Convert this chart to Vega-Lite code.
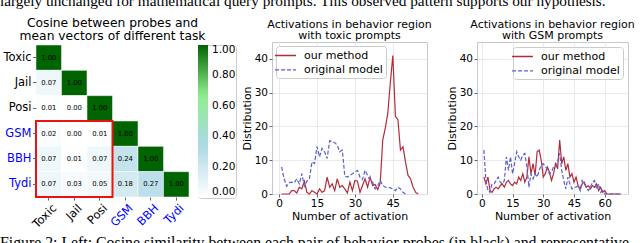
{
  "$schema": "https://vega.github.io/schema/vega-lite/v6.json",
  "padding": {"left": 0, "top": -7, "right": 0, "bottom": 0},
  "title": {"text": "largely unchanged for mathematical query prompts. This observed pattern supports our hypothesis.", "font": "Liberation Serif", "fontSize": 15.3, "fontWeight": "normal", "anchor": "start", "frame": "group", "dx": -36, "offset": 8, "color": "black"},
  "datasets": {
    "heat": [
      {"row": "Toxic", "col": "Toxic", "v": 1.0},
      {"row": "Jail", "col": "Toxic", "v": 0.07},
      {"row": "Jail", "col": "Jail", "v": 1.0},
      {"row": "Posi", "col": "Toxic", "v": 0.01},
      {"row": "Posi", "col": "Jail", "v": 0.0},
      {"row": "Posi", "col": "Posi", "v": 1.0},
      {"row": "GSM", "col": "Toxic", "v": 0.02},
      {"row": "GSM", "col": "Jail", "v": 0.0},
      {"row": "GSM", "col": "Posi", "v": 0.01},
      {"row": "GSM", "col": "GSM", "v": 1.0},
      {"row": "BBH", "col": "Toxic", "v": 0.07},
      {"row": "BBH", "col": "Jail", "v": 0.01},
      {"row": "BBH", "col": "Posi", "v": 0.07},
      {"row": "BBH", "col": "GSM", "v": 0.24},
      {"row": "BBH", "col": "BBH", "v": 1.0},
      {"row": "Tydi", "col": "Toxic", "v": 0.07},
      {"row": "Tydi", "col": "Jail", "v": 0.03},
      {"row": "Tydi", "col": "Posi", "v": 0.05},
      {"row": "Tydi", "col": "GSM", "v": 0.18},
      {"row": "Tydi", "col": "BBH", "v": 0.27},
      {"row": "Tydi", "col": "Tydi", "v": 1.0}
    ],
    "box": [{"cx": "Jail", "cy": "BBH"}],
    "toxic": [
      {"n": 1, "our method": 0, "original model": 8},
      {"n": 2, "our method": 0, "original model": 4.5},
      {"n": 3, "our method": 0, "original model": 2.3},
      {"n": 4, "our method": 0, "original model": 3.3},
      {"n": 5, "our method": 1, "original model": 3.5},
      {"n": 6, "our method": 1, "original model": 3.3},
      {"n": 7, "our method": 0.3, "original model": 4.5},
      {"n": 8, "our method": 2, "original model": 3},
      {"n": 9, "our method": 1.5, "original model": 6},
      {"n": 10, "our method": 3.8, "original model": 2.3},
      {"n": 11, "our method": 0.5, "original model": 3.8},
      {"n": 12, "our method": 0, "original model": 4.5},
      {"n": 13, "our method": 1, "original model": 9.5},
      {"n": 14, "our method": 0.5, "original model": 9},
      {"n": 15, "our method": 0, "original model": 14},
      {"n": 16, "our method": 1.5, "original model": 11},
      {"n": 17, "our method": 0.5, "original model": 13.5},
      {"n": 18, "our method": 1, "original model": 12.5},
      {"n": 19, "our method": 5, "original model": 10.5},
      {"n": 20, "our method": 2, "original model": 15.8},
      {"n": 21, "our method": 3, "original model": 15.5},
      {"n": 22, "our method": 1, "original model": 15.2},
      {"n": 23, "our method": 4.5, "original model": 14.5},
      {"n": 24, "our method": 2, "original model": 12.5},
      {"n": 25, "our method": 2.5, "original model": 13},
      {"n": 26, "our method": 1.5, "original model": 5.3},
      {"n": 27, "our method": 0.3, "original model": 5},
      {"n": 28, "our method": 3.5, "original model": 5.5},
      {"n": 29, "our method": 1, "original model": 6},
      {"n": 30, "our method": 4, "original model": 6.5},
      {"n": 31, "our method": 3.8, "original model": 7},
      {"n": 32, "our method": 0.5, "original model": 5},
      {"n": 33, "our method": 2.5, "original model": 4.3},
      {"n": 34, "our method": 4.5, "original model": 7},
      {"n": 35, "our method": 2, "original model": 5.5},
      {"n": 36, "our method": 5, "original model": 4},
      {"n": 37, "our method": 2.5, "original model": 3.5},
      {"n": 38, "our method": 2.8, "original model": 1.5},
      {"n": 39, "our method": 1.3, "original model": 2.5},
      {"n": 40, "our method": 3.3, "original model": 4},
      {"n": 41, "our method": 16, "original model": 2.5},
      {"n": 42, "our method": 19.5, "original model": 2},
      {"n": 43, "our method": 24, "original model": 2},
      {"n": 44, "our method": 33, "original model": 1.8},
      {"n": 45, "our method": 41, "original model": 1.5},
      {"n": 46, "our method": 23, "original model": 1},
      {"n": 47, "our method": 22, "original model": 2},
      {"n": 48, "our method": 13, "original model": 1.5},
      {"n": 49, "our method": 14, "original model": 0.5},
      {"n": 50, "our method": 9.5, "original model": 0},
      {"n": 51, "our method": 5.5, "original model": null},
      {"n": 52, "our method": 4.5, "original model": null},
      {"n": 53, "our method": 2, "original model": null},
      {"n": 54, "our method": 0.5, "original model": null},
      {"n": 55, "our method": 0, "original model": null}
    ],
    "gsm": [
      {"n": 1, "our method": 5, "original model": 13},
      {"n": 2, "our method": 3, "original model": 4},
      {"n": 3, "our method": 5, "original model": 1},
      {"n": 4, "our method": 1, "original model": 0.5},
      {"n": 5, "our method": 0.5, "original model": 3},
      {"n": 6, "our method": 1.5, "original model": 3},
      {"n": 7, "our method": 2, "original model": 4},
      {"n": 8, "our method": 1.5, "original model": 5},
      {"n": 9, "our method": 2.5, "original model": 3.5},
      {"n": 10, "our method": 3, "original model": 3},
      {"n": 11, "our method": 2, "original model": 4},
      {"n": 12, "our method": 3.5, "original model": 11},
      {"n": 13, "our method": 4, "original model": 7},
      {"n": 14, "our method": 3, "original model": 11},
      {"n": 15, "our method": 2.5, "original model": 6},
      {"n": 16, "our method": 3.5, "original model": 9},
      {"n": 17, "our method": 3, "original model": 12.5},
      {"n": 18, "our method": 5, "original model": 11},
      {"n": 19, "our method": 4, "original model": 10},
      {"n": 20, "our method": 6, "original model": 11.5},
      {"n": 21, "our method": 3.5, "original model": 12},
      {"n": 22, "our method": 5, "original model": 8},
      {"n": 23, "our method": 11, "original model": 2},
      {"n": 24, "our method": 6, "original model": 6},
      {"n": 25, "our method": 9, "original model": 4.5},
      {"n": 26, "our method": 5.5, "original model": 6},
      {"n": 27, "our method": 12.5, "original model": 5},
      {"n": 28, "our method": 13, "original model": 7},
      {"n": 29, "our method": 10, "original model": 8.5},
      {"n": 30, "our method": 5, "original model": 9},
      {"n": 31, "our method": 6, "original model": 8},
      {"n": 32, "our method": 8, "original model": 7.5},
      {"n": 33, "our method": 6.5, "original model": 6},
      {"n": 34, "our method": 4, "original model": 6.5},
      {"n": 35, "our method": 6, "original model": 8},
      {"n": 36, "our method": 9, "original model": 8},
      {"n": 37, "our method": 7.5, "original model": 9.5},
      {"n": 38, "our method": 16, "original model": 12},
      {"n": 39, "our method": 9, "original model": 7},
      {"n": 40, "our method": 11, "original model": 4},
      {"n": 41, "our method": 7, "original model": 1.5},
      {"n": 42, "our method": 9, "original model": 5},
      {"n": 43, "our method": 5, "original model": 3},
      {"n": 44, "our method": 6, "original model": 1.5},
      {"n": 45, "our method": 3.5, "original model": 2},
      {"n": 46, "our method": 5, "original model": 2},
      {"n": 47, "our method": 2.5, "original model": 2.5},
      {"n": 48, "our method": 1.5, "original model": 1},
      {"n": 49, "our method": 3, "original model": 4},
      {"n": 50, "our method": 3.5, "original model": 3},
      {"n": 51, "our method": 2, "original model": 2},
      {"n": 52, "our method": 2.5, "original model": 1},
      {"n": 53, "our method": 1.5, "original model": 2},
      {"n": 54, "our method": 2.5, "original model": 3.5},
      {"n": 55, "our method": 2, "original model": 4},
      {"n": 56, "our method": 3, "original model": 1.5},
      {"n": 57, "our method": 1, "original model": 3},
      {"n": 58, "our method": 2, "original model": 0.5},
      {"n": 59, "our method": 0.5, "original model": 1},
      {"n": 60, "our method": 1, "original model": 0},
      {"n": 61, "our method": 0, "original model": 0},
      {"n": 62, "our method": 0, "original model": 0},
      {"n": 63, "our method": 0, "original model": 0},
      {"n": 64, "our method": 0, "original model": 0},
      {"n": 65, "our method": 0, "original model": 0},
      {"n": 66, "our method": 0, "original model": 0},
      {"n": 67, "our method": 0, "original model": 0},
      {"n": 68, "our method": 0, "original model": 0}
    ]
  },
  "vconcat": [
    {
      "title": {"text": "Figure 2: Left: Cosine similarity between each pair of behavior probes (in black) and representative", "orient": "bottom", "font": "Liberation Serif", "fontSize": 15.8, "fontWeight": "normal", "anchor": "start", "frame": "group", "dx": -36, "offset": 6, "color": "black"},
      "bounds": "flush",
      "spacing": 83,
      "hconcat": [
        {
          "width": 153,
          "height": 155,
          "view": {"stroke": null},
          "title": {"text": ["Cosine between probes and", "mean vectors of different task"], "fontSize": 12.3, "lineHeight": 12.5, "offset": 0},
          "layer": [
            {
              "data": {"name": "heat"},
              "mark": {"type": "rect", "stroke": "white", "strokeWidth": 0.5},
              "encoding": {
                "x": {"field": "col", "type": "nominal", "scale": {"domain": ["Toxic", "Jail", "Posi", "GSM", "BBH", "Tydi"], "paddingInner": 0, "paddingOuter": 0},
                  "axis": {"title": null, "domain": false, "labelAngle": -45, "labelAlign": "right", "labelBaseline": "top", "labelFontSize": 11.5, "labelPadding": 2, "labelOffset": 2, "tickSize": 3, "labelColor": {"condition": {"test": "indexof(['GSM','BBH','Tydi'], datum.value) >= 0", "value": "blue"}, "value": "black"}}},
                "y": {"field": "row", "type": "nominal", "scale": {"domain": ["Toxic", "Jail", "Posi", "GSM", "BBH", "Tydi"], "paddingInner": 0, "paddingOuter": 0.059, "align": 1},
                  "axis": {"title": null, "domain": false, "labelFontSize": 11.5, "labelPadding": 1.5, "tickSize": 3.5, "labelColor": {"condition": {"test": "indexof(['GSM','BBH','Tydi'], datum.value) >= 0", "value": "blue"}, "value": "black"}}},
                "color": {"field": "v", "type": "quantitative",
                  "scale": {"domain": [0, 0.3333, 0.6667, 1], "range": ["#ffffff", "#add8e6", "#90ee90", "#006400"], "interpolate": "rgb"},
                  "legend": {"title": null, "orient": "none", "legendX": 162, "legendY": 3, "direction": "vertical", "gradientLength": 152, "gradientThickness": 10, "values": [0, 0.2, 0.4, 0.6, 0.8, 1], "format": ".2f", "labelFontSize": 10.5, "labelOffset": 4, "gradientStrokeWidth": 0, "fillColor": null, "strokeColor": null, "padding": 0}}
              }
            },
            {
              "data": {"name": "heat"},
              "mark": {"type": "text", "fontSize": 6.8, "color": "black"},
              "encoding": {
                "x": {"field": "col", "type": "nominal", "scale": {"domain": ["Toxic", "Jail", "Posi", "GSM", "BBH", "Tydi"]}},
                "y": {"field": "row", "type": "nominal", "scale": {"domain": ["Toxic", "Jail", "Posi", "GSM", "BBH", "Tydi"]}},
                "text": {"field": "v", "type": "quantitative", "format": ".2f"}
              }
            },
            {
              "data": {"name": "box"},
              "mark": {"type": "rect", "fillOpacity": 0, "stroke": "#ee1111", "strokeWidth": 2, "width": {"band": 3}, "height": {"band": 3}},
              "encoding": {
                "x": {"field": "cx", "type": "nominal", "scale": {"domain": ["Toxic", "Jail", "Posi", "GSM", "BBH", "Tydi"]}},
                "y": {"field": "cy", "type": "nominal", "scale": {"domain": ["Toxic", "Jail", "Posi", "GSM", "BBH", "Tydi"]}}
              }
            }
          ]
        },
        {
          "bounds": "flush",
          "spacing": 50,
          "hconcat": [
            {
              "width": 155,
              "height": 152,
              "title": {"text": ["Activations in behavior region", "with toxic prompts"], "fontSize": 11, "lineHeight": 11.5, "offset": 1},
              "data": {"name": "toxic"},
              "transform": [{"fold": ["our method", "original model"], "as": ["series", "d"]}, {"filter": "datum.d != null"}],
              "mark": {"type": "line", "strokeWidth": 1.2},
              "encoding": {
                "x": {"field": "n", "type": "quantitative", "scale": {"domain": [-2.8, 58.5], "nice": false, "zero": false},
                  "axis": {"values": [0, 15, 30, 45], "title": "Number of activation"}},
                "y": {"field": "d", "type": "quantitative", "scale": {"domain": [0, 45], "nice": false},
                  "axis": {"values": [0, 10, 20, 30, 40], "title": "Distribution"}},
                "color": {"field": "series", "type": "nominal", "scale": {"domain": ["our method", "original model"], "range": ["#b22b3b", "#5a5fd2"]},
                  "legend": {"title": null, "orient": "top-left", "offset": 4}},
                "strokeDash": {"field": "series", "type": "nominal", "scale": {"domain": ["our method", "original model"], "range": [[1, 0], [4, 2]]},
                  "legend": {"title": null, "orient": "top-left", "offset": 4}}
              }
            },
            {
              "width": 151,
              "height": 152,
              "title": {"text": ["Activations in behavior region", "with GSM prompts"], "fontSize": 11, "lineHeight": 11.5, "offset": 1},
              "data": {"name": "gsm"},
              "transform": [{"fold": ["our method", "original model"], "as": ["series", "d"]}, {"filter": "datum.d != null"}],
              "mark": {"type": "line", "strokeWidth": 1.2},
              "encoding": {
                "x": {"field": "n", "type": "quantitative", "scale": {"domain": [-2.35, 71.35], "nice": false, "zero": false},
                  "axis": {"values": [0, 15, 30, 45, 60], "title": "Number of activation"}},
                "y": {"field": "d", "type": "quantitative", "scale": {"domain": [0, 45], "nice": false},
                  "axis": {"values": [0, 10, 20, 30, 40], "title": "Distribution"}},
                "color": {"field": "series", "type": "nominal", "scale": {"domain": ["our method", "original model"], "range": ["#b22b3b", "#5a5fd2"]},
                  "legend": {"title": null, "orient": "top-right", "offset": 5}},
                "strokeDash": {"field": "series", "type": "nominal", "scale": {"domain": ["our method", "original model"], "range": [[1, 0], [4, 2]]},
                  "legend": {"title": null, "orient": "top-right", "offset": 5}}
              }
            }
          ]
        }
      ]
    }
  ],
  "config": {
    "font": "DejaVu Sans",
    "view": {"stroke": "#c8c8c8"},
    "title": {"font": "DejaVu Sans", "fontWeight": "normal", "color": "black"},
    "axis": {"labelFont": "DejaVu Sans", "titleFont": "DejaVu Sans", "labelColor": "black", "titleColor": "black", "titleFontWeight": "normal", "labelFontSize": 10.5, "titleFontSize": 11, "gridColor": "#e4e4e4", "gridWidth": 0.8, "tickSize": 3, "tickColor": "#666", "labelPadding": 1.5, "titlePadding": 2, "domain": false},
    "axisX": {"titlePadding": 1},
    "legend": {"fillColor": "white", "strokeColor": "#cccccc", "cornerRadius": 3, "padding": 3, "symbolType": "M-1.9,0H1.9", "symbolSize": 121, "symbolStrokeWidth": 1.3, "labelFontSize": 11, "labelFont": "DejaVu Sans", "rowPadding": 2.3, "labelOffset": 12, "labelColor": "black"}
  }
}
